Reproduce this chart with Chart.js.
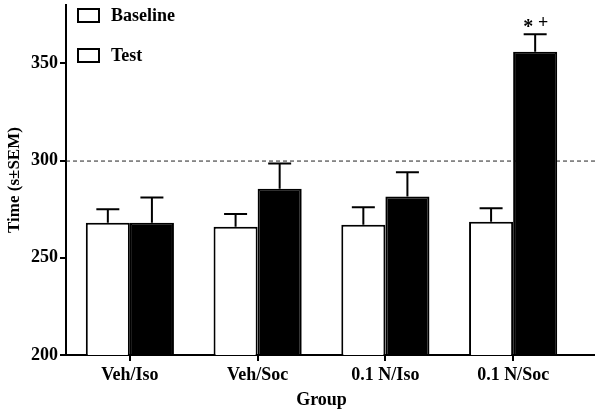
<!DOCTYPE html>
<html>
<head>
<meta charset="utf-8">
<script src="https://cdn.jsdelivr.net/npm/chart.js@4"></script>
<style>
  html, body { margin: 0; padding: 0; background: #fff; }
  canvas { display: block; }
</style>
</head>
<body>
<canvas id="myChart" width="601" height="411"></canvas>
<script>
const groups = ["Veh/Iso", "Veh/Soc", "0.1 N/Iso", "0.1 N/Soc"];
const baseline = [268, 266, 267, 268.5];
const test = [268, 285.5, 281.5, 356];
const baselineSem = [7, 6.5, 9, 7];
const testSem = [13, 13, 12.5, 9];
const yTicks = [200, 250, 300, 350];
const refLine = 300;
const sigMarks = ["*", "+"]; // above 0.1 N/Soc test bar

const FONT = "'Liberation Serif', 'Times New Roman', serif";

// error bars (upper only)
const errorBars = {
  id: "errorBars",
  afterDatasetsDraw(chart) {
    const ctx = chart.ctx;
    const y = chart.scales.y;
    const sems = [baselineSem, testSem];
    ctx.save();
    ctx.strokeStyle = "#000";
    ctx.lineWidth = 2;
    chart.data.datasets.forEach((ds, i) => {
      chart.getDatasetMeta(i).data.forEach((bar, j) => {
        const top = y.getPixelForValue(ds.data[j] + sems[i][j]);
        ctx.beginPath();
        ctx.moveTo(bar.x, bar.y);
        ctx.lineTo(bar.x, top);
        ctx.moveTo(bar.x - 11.5, top);
        ctx.lineTo(bar.x + 11.5, top);
        ctx.stroke();
      });
    });
    ctx.restore();
  }
};

// dashed reference line, axis extension, legend and significance marks
const extras = {
  id: "extras",
  beforeDatasetsDraw(chart) {
    const ctx = chart.ctx;
    const area = chart.chartArea;
    const yp = chart.scales.y.getPixelForValue(refLine);
    ctx.save();
    ctx.strokeStyle = "#222";
    ctx.lineWidth = 1;
    ctx.setLineDash([4, 3]);
    ctx.beginPath();
    ctx.moveTo(area.left, yp + 0.5);
    ctx.lineTo(595, yp + 0.5);
    ctx.stroke();
    ctx.restore();
  },
  afterDraw(chart) {
    const ctx = chart.ctx;
    const area = chart.chartArea;
    ctx.save();
    ctx.strokeStyle = "#000";
    ctx.lineWidth = 2;
    ctx.beginPath();
    ctx.moveTo(area.right - 1, area.bottom);
    ctx.lineTo(595, area.bottom);
    ctx.stroke();

    // legend
    ctx.font = "bold 18px " + FONT;
    ctx.textBaseline = "middle";
    ctx.fillStyle = "#000";
    chart.data.datasets.forEach((ds, i) => {
      const cy = 15 + i * 40;
      ctx.fillStyle = "#fff";
      ctx.fillRect(78, cy - 6, 21, 13);
      ctx.strokeRect(78, cy - 6, 21, 13);
      ctx.fillStyle = "#000";
      ctx.fillText(ds.label, 111, cy + 1);
    });

    // significance marks
    const meta = chart.getDatasetMeta(1);
    const bar = meta.data[3];
    const top = chart.scales.y.getPixelForValue(test[3] + testSem[3]);
    ctx.textAlign = "center";
    ctx.font = "bold 20px " + FONT;
    ctx.fillText(sigMarks[0], bar.x - 7, top - 6);
    ctx.font = "bold 18px " + FONT;
    ctx.fillText(sigMarks[1], bar.x + 8, top - 11);
    ctx.restore();
  }
};

const ctx = document.getElementById("myChart").getContext("2d");
const chart = new Chart(ctx, {
  type: "bar",
  data: {
    labels: groups,
    datasets: [
      {
        label: "Baseline",
        data: baseline,
        backgroundColor: "#fff",
        borderColor: "#000",
        borderWidth: 2
      },
      {
        label: "Test",
        data: test,
        backgroundColor: "#000",
        borderColor: "#000",
        borderWidth: 2
      }
    ]
  },
  options: {
    responsive: false,
    animation: false,
    events: [],
    layout: { padding: { top: 5, right: 24, left: 0, bottom: 0 } },
    datasets: {
      bar: { categoryPercentage: 0.69, barPercentage: 1 }
    },
    plugins: {
      legend: { display: false },
      tooltip: { enabled: false }
    },
    scales: {
      x: {
        grid: {
          display: true,
          offset: false,
          drawOnChartArea: false,
          drawTicks: true,
          tickLength: 6,
          color: "#000",
          lineWidth: 2
        },
        border: { display: true, color: "#000", width: 2 },
        ticks: {
          color: "#000",
          padding: 4,
          maxRotation: 0,
          font: { family: FONT, size: 18, weight: "bold" }
        },
        title: {
          display: true,
          text: "Group",
          color: "#000",
          padding: { top: 1, bottom: 0 },
          font: { family: FONT, size: 18, weight: "bold" }
        },
        afterFit(s) {
          s.height = 56;
          s.paddingLeft = 0;
          s.paddingRight = 0;
        }
      },
      y: {
        min: 200,
        max: 380,
        grid: {
          display: true,
          drawOnChartArea: false,
          drawTicks: true,
          tickLength: 6,
          color: "#000",
          lineWidth: 2
        },
        border: { display: true, color: "#000", width: 2 },
        afterBuildTicks(s) { s.ticks = yTicks.map(v => ({ value: v })); },
        ticks: {
          color: "#000",
          padding: 2,
          font: { family: FONT, size: 18, weight: "bold" }
        },
        title: {
          display: true,
          text: "Time (s±SEM)",
          color: "#000",
          padding: { top: 4, bottom: 0 },
          font: { family: FONT, size: 17, weight: "bold" }
        },
        afterFit(s) {
          s.width = 66;
          s.paddingTop = 0;
          s.paddingBottom = 0;
        }
      }
    }
  },
  plugins: [errorBars, extras]
});
</script>
</body>
</html>
